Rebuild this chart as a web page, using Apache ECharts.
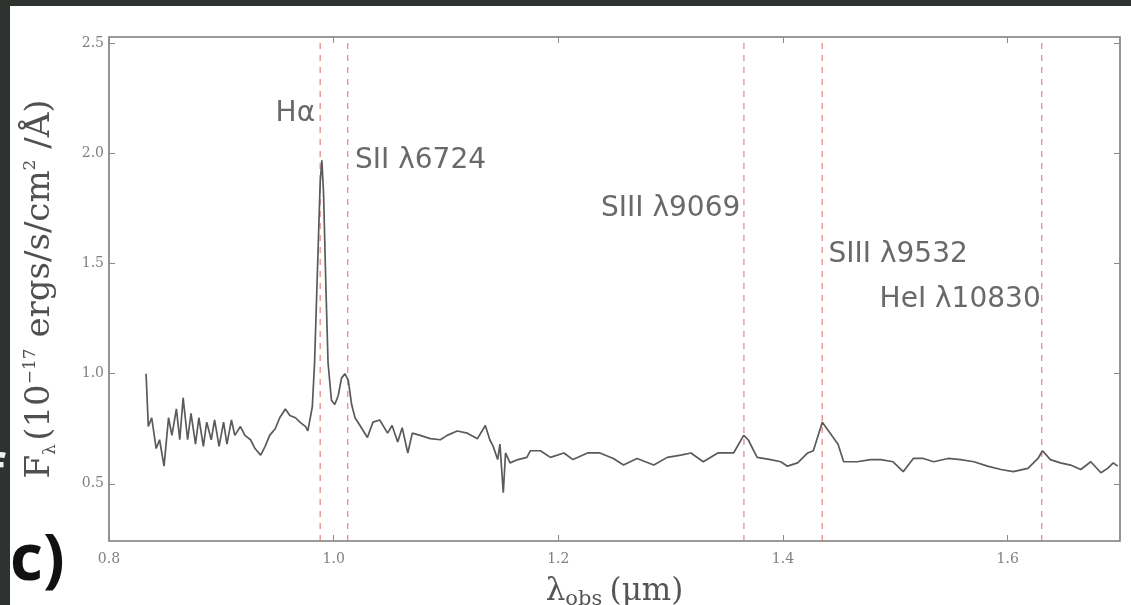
<!DOCTYPE html>
<html>
<head>
<meta charset="utf-8">
<script src="https://cdn.jsdelivr.net/npm/echarts@6/dist/echarts.min.js"></script>
<style>
html,body{margin:0;padding:0;background:#fff;}
#chart{width:1131px;height:605px;}
</style>
</head>
<body>
<div id="chart"></div>
<script>
// Observed wavelength (micron)
var wavelength = [0.833,0.835,0.838,0.842,0.845,0.849,0.853,0.856,0.860,0.863,0.866,0.870,0.873,0.877,0.880,0.884,0.887,0.891,0.894,0.898,0.902,0.905,0.909,0.912,0.917,0.921,0.926,0.930,0.935,0.939,0.943,0.948,0.952,0.957,0.961,0.966,0.970,0.975,0.977,0.981,0.983,0.9855,0.988,0.9895,0.991,0.993,0.995,0.998,1.001,1.004,1.007,1.010,1.013,1.016,1.019,1.024,1.030,1.035,1.041,1.048,1.052,1.057,1.061,1.066,1.070,1.077,1.086,1.095,1.101,1.110,1.119,1.128,1.135,1.139,1.142,1.146,1.148,1.151,1.153,1.157,1.164,1.172,1.175,1.184,1.193,1.205,1.213,1.226,1.237,1.249,1.258,1.270,1.285,1.297,1.309,1.318,1.329,1.342,1.356,1.365,1.369,1.377,1.389,1.398,1.404,1.413,1.422,1.427,1.435,1.442,1.449,1.454,1.466,1.478,1.487,1.498,1.507,1.516,1.525,1.534,1.547,1.558,1.570,1.582,1.594,1.605,1.618,1.627,1.631,1.638,1.647,1.656,1.665,1.674,1.683,1.689,1.694,1.698];
// Flux F_lambda (1e-17 erg/s/cm^2/A)
var flux = [1.00,0.76,0.80,0.66,0.70,0.58,0.80,0.72,0.84,0.70,0.89,0.70,0.82,0.68,0.80,0.67,0.78,0.70,0.79,0.67,0.78,0.68,0.79,0.72,0.76,0.72,0.70,0.66,0.63,0.67,0.72,0.75,0.80,0.84,0.81,0.80,0.78,0.76,0.74,0.85,1.05,1.46,1.87,1.97,1.82,1.41,1.05,0.88,0.86,0.90,0.98,1.00,0.97,0.86,0.80,0.76,0.71,0.78,0.79,0.73,0.765,0.69,0.755,0.64,0.73,0.72,0.705,0.70,0.72,0.74,0.73,0.705,0.765,0.70,0.67,0.61,0.68,0.46,0.64,0.595,0.61,0.62,0.65,0.65,0.62,0.64,0.61,0.64,0.64,0.615,0.585,0.615,0.585,0.62,0.63,0.64,0.60,0.64,0.64,0.72,0.70,0.62,0.61,0.60,0.58,0.595,0.64,0.65,0.78,0.73,0.68,0.60,0.60,0.61,0.61,0.60,0.555,0.615,0.615,0.60,0.615,0.61,0.60,0.58,0.565,0.555,0.57,0.615,0.65,0.61,0.595,0.585,0.565,0.60,0.55,0.57,0.595,0.58];
// Emission line positions (observed)
var lineWavelengths = [0.988, 1.0125, 1.3652, 1.4349, 1.6303];
var lineNames = ['Hα', 'SII λ6724', 'SIII λ9069', 'SIII λ9532', 'HeI λ10830'];
var labelX = [0.9835, 1.019, 1.362, 1.4405, 1.6294];
var labelY = [2.18, 1.97, 1.75, 1.54, 1.335];
var labelSide = ['left', 'right', 'left', 'right', 'left'];
var xTicks = [0.8, 1.0, 1.2, 1.4, 1.6];
var yTicks = [0.5, 1.0, 1.5, 2.0, 2.5];
var yMin = 0.24, yMax = 2.53;

var spectrum = wavelength.map(function (w, i) { return [w, flux[i]]; });
var labelData = lineNames.map(function (n, i) {
  return {
    value: [labelX[i], labelY[i], n],
    label: { position: labelSide[i] }
  };
});
var dashedSeries = lineWavelengths.map(function (w) {
  return {
    type: 'line', data: [[w, yMin], [w, yMax]], showSymbol: false, symbol: 'none', silent: true,
    lineStyle: { color: 'rgba(228,110,110,0.75)', type: [6, 6], width: 1.4 }, z: 2
  };
});

var tickFont = { color: '#808080', fontSize: 14, fontFamily: 'DejaVu Serif' };
var chart = echarts.init(document.getElementById('chart'));
chart.setOption({
  animation: false,
  backgroundColor: '#ffffff',
  grid: { left: 109, right: 11, top: 37, bottom: 64, show: true, borderColor: '#7a7a7a', borderWidth: 1.6, containLabel: false, outerBoundsMode: 'none' },
  xAxis: [{
    type: 'value', min: 0.8, max: 1.7,
    axisLine: { show: false },
    axisTick: { show: true, inside: true, length: 6, lineStyle: { color: '#8a8a8a' }, customValues: xTicks },
    axisLabel: { customValues: xTicks, formatter: function (v) { return v.toFixed(1); }, margin: 11, color: tickFont.color, fontSize: tickFont.fontSize, fontFamily: tickFont.fontFamily },
    splitLine: { show: false },
    name: '{l|λ}{s|obs} {l|(μm)}',
    nameLocation: 'middle', nameGap: 32,
    nameTextStyle: {
      rich: {
        l: { fontSize: 31, fontFamily: 'DejaVu Serif', color: '#555' },
        s: { fontSize: 21, fontFamily: 'DejaVu Serif', color: '#555', padding: [16, 4, 0, 0] }
      }
    }
  }, {
    type: 'value', min: 0.8, max: 1.7, position: 'top',
    axisLine: { show: false },
    axisTick: { show: true, inside: true, length: 6, lineStyle: { color: '#8a8a8a' }, customValues: xTicks },
    axisLabel: { show: false }, splitLine: { show: false }
  }],
  yAxis: [{
    type: 'value', min: yMin, max: yMax,
    axisLine: { show: false },
    axisTick: { show: true, inside: true, length: 6, lineStyle: { color: '#8a8a8a' }, customValues: yTicks },
    axisLabel: { customValues: yTicks, formatter: function (v) { return v.toFixed(1); }, margin: 5, color: tickFont.color, fontSize: tickFont.fontSize, fontFamily: tickFont.fontFamily },
    splitLine: { show: false },
    name: '{l|F}{s|λ} {l|(10}{p|−17}{l| ergs/s/cm}{p|2}{l| /Å)}',
    nameLocation: 'middle', nameRotate: 90, nameGap: 50,
    nameTextStyle: {
      rich: {
        l: { fontSize: 34, fontFamily: 'DejaVu Serif', color: '#505050' },
        s: { fontSize: 17, fontFamily: 'DejaVu Serif', color: '#505050', padding: [20, 0, 0, 0] },
        p: { fontSize: 17, fontFamily: 'DejaVu Serif', color: '#505050', padding: [0, 0, 20, 0] }
      }
    }
  }, {
    type: 'value', min: yMin, max: yMax, position: 'right',
    axisLine: { show: false },
    axisTick: { show: true, inside: true, length: 6, lineStyle: { color: '#8a8a8a' }, customValues: yTicks },
    axisLabel: { show: false }, splitLine: { show: false }
  }],
  series: dashedSeries.concat([{
    type: 'line',
    data: spectrum,
    showSymbol: false,
    symbol: 'none',
    lineStyle: { color: '#5a5a5a', width: 1.7 },
    z: 3
  }, {
    type: 'scatter',
    data: labelData,
    symbolSize: 0,
    silent: true,
    label: {
      show: true, distance: 0,
      formatter: function (p) { return p.value[2]; },
      fontSize: 28, color: '#444', fontFamily: 'DejaVu Sans'
    }
  }]),
  graphic: [
    { type: 'rect', left: 0, top: 0, shape: { width: 1131, height: 6 }, style: { fill: '#2f332f' } },
    { type: 'rect', left: 0, top: 0, shape: { width: 10, height: 605 }, style: { fill: '#2f332f' } },
    { type: 'text', left: -14, top: 452, style: { text: 'f', fill: '#f0f0f0', font: 'bold 46px "Open Sans"' } },
    { type: 'text', left: 10, top: 530, style: { text: 'c)', fill: '#111', font: 'bold 64px "Open Sans"' } }
  ]
});
</script>
</body>
</html>
